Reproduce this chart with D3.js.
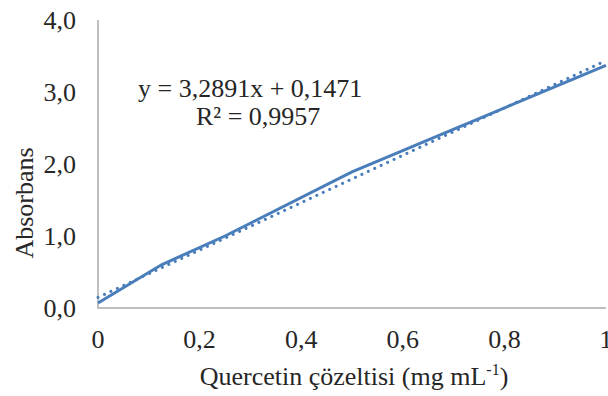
<!DOCTYPE html>
<html><head><meta charset="utf-8">
<script src="https://cdn.jsdelivr.net/npm/d3@7"></script>
<style>
html,body{margin:0;padding:0;background:#fff;}
</style></head>
<body><svg id="c" width="608" height="396"></svg>
<script>
const concentrations = [0, 0.125, 0.25, 0.5, 1];
const absorbance = [0.07, 0.6, 1.0, 1.89, 3.37];
const slope = 3.2891, intercept = 0.1471;
const xTicks = [0, 0.2, 0.4, 0.6, 0.8, 1];
const yTicks = [0, 1, 2, 3, 4];
const equationLines = ["y = 3,2891x + 0,1471", "R² = 0,9957"];
const xTitle = "Quercetin çözeltisi (mg mL";
const yTitle = "Absorbans";

const FONT = "'Liberation Serif', 'Times New Roman', 'DejaVu Serif', serif";
const svg = d3.select("#c").attr("font-family", FONT);
const x = d3.scaleLinear().domain([0, 1]).range([98, 606]);
const y = d3.scaleLinear().domain([0, 4]).range([308, 20]);
const fmt = v => d3.format(".1f")(v).replace(".", ",");
const fmtX = v => (v === 0 || v === 1) ? String(v) : d3.format(".1f")(v).replace(".", ",");
const txtCol = "#262626";

svg.append("line").attr("x1", x(0)).attr("x2", x(0)).attr("y1", y(4)).attr("y2", y(0))
  .attr("stroke", "#bfbfbf").attr("stroke-width", 2);
svg.append("line").attr("x1", x(0) - 1).attr("x2", x(1)).attr("y1", y(0)).attr("y2", y(0))
  .attr("stroke", "#bfbfbf").attr("stroke-width", 2);

svg.append("g").selectAll("text").data(yTicks).join("text")
  .attr("x", 76).attr("y", d => y(d)).attr("dy", "0.35em").attr("fill", txtCol)
  .attr("font-family", FONT)
  .attr("text-anchor", "end").attr("font-size", 26).text(fmt);
svg.append("g").selectAll("text").data(xTicks).join("text")
  .attr("x", d => x(d)).attr("y", 348).attr("fill", txtCol)
  .attr("font-family", FONT)
  .attr("text-anchor", "middle").attr("font-size", 26).text(fmtX);

const xt = svg.append("text").attr("x", 354).attr("y", 385).attr("text-anchor", "middle")
  .attr("font-size", 26).attr("fill", txtCol).attr("font-family", FONT);
xt.append("tspan").text(xTitle);
xt.append("tspan").attr("dy", -10).attr("font-size", 16).text("-1");
xt.append("tspan").attr("dy", 10).text(")");
svg.append("text").attr("transform", "translate(33,203) rotate(-90)").attr("fill", txtCol)
  .attr("font-family", FONT)
  .attr("text-anchor", "middle").attr("font-size", 26).text(yTitle);

const pts = concentrations.map((c, i) => [c, absorbance[i]]);
svg.append("path").datum(pts)
  .attr("d", d3.line().x(d => x(d[0])).y(d => y(d[1])))
  .attr("fill", "none").attr("stroke", "#4a7ebb").attr("stroke-width", 3);

const tl = [0, 1].map(c => [c, slope * c + intercept]);
svg.append("path").datum(tl)
  .attr("d", d3.line().x(d => x(d[0])).y(d => y(d[1])))
  .attr("fill", "none").attr("stroke", "#4a7ebb").attr("stroke-width", 3)
  .attr("stroke-dasharray", "0.1 7").attr("stroke-linecap", "round");

svg.append("text").attr("x", 138).attr("y", 97).attr("font-size", 26).attr("fill", txtCol)
  .attr("font-family", FONT).text(equationLines[0]);
svg.append("text").attr("x", 196).attr("y", 125).attr("font-size", 26).attr("fill", txtCol)
  .attr("font-family", FONT).text(equationLines[1]);
</script></body></html>
